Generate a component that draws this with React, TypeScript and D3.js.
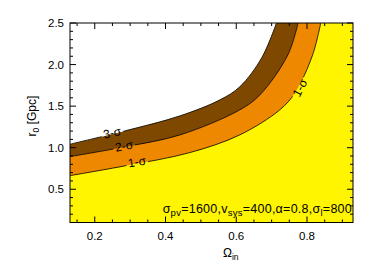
import React from "react";
import * as d3 from "d3";

const W = 374, H = 267;
const M = { left: 70, right: 353, top: 23, bottom: 222.5 };

const xDomain = [0.13, 0.93];
const yDomain = [0.1, 2.5];
const xMajor = [0.2, 0.4, 0.6, 0.8];
const yMajor = [0.5, 1.0, 1.5, 2.0, 2.5];

// contour boundaries: Omega_in vs r0
const sig3Om = [0.13, 0.285, 0.441, 0.554, 0.61, 0.672, 0.714];
const sig3R = [1.042, 1.202, 1.383, 1.576, 1.733, 2.082, 2.504];
const sig2Om = [0.13, 0.285, 0.441, 0.61, 0.667, 0.746, 0.775];
const sig2R = [0.893, 1.01, 1.154, 1.455, 1.636, 2.118, 2.504];
const sig1Om = [0.13, 0.285, 0.469, 0.61, 0.723, 0.766, 0.816, 0.839];
const sig1R = [0.664, 0.781, 0.941, 1.154, 1.455, 1.66, 2.118, 2.504];

const labelText = ["3-σ", "2-σ", "1-σ", "1-σ"];
const labelOm = [0.249, 0.283, 0.319, 0.78];
const labelR = [1.18, 1.02, 0.83, 1.72];
const labelAngle = [-12, -11, -10, -63];

const fillColors = ["#ffffff", "#7f4800", "#ee8800"];
const bgColor = "#fff500";

export default function App() {
  const x = d3.scaleLinear().domain(xDomain).range([M.left, M.right]);
  const y = d3.scaleLinear().domain(yDomain).range([M.bottom, M.top]);
  const line = d3
    .line<[number, number]>()
    .x((d) => x(d[0]))
    .y((d) => y(d[1]))
    .curve(d3.curveCatmullRom.alpha(0.5));
  const curves: [number, number][][] = [
    sig3Om.map((o, i) => [o, sig3R[i]]),
    sig2Om.map((o, i) => [o, sig2R[i]]),
    sig1Om.map((o, i) => [o, sig1R[i]]),
  ];
  const regionPath = (c: [number, number][]) =>
    line(c) + ` L${x(xDomain[0])},${y(yDomain[1])} Z`;

  const xMinor = d3.range(0.15, 0.93, 0.05).map((v) => +v.toFixed(2));
  const yMinor = d3.range(0.1, 2.51, 0.1).map((v) => +v.toFixed(2));
  const font = "Liberation Sans, Arial, sans-serif";

  const labelBoxes = labelText.map((t, i) => ({
    cx: x(labelOm[i]),
    cy: y(labelR[i]),
    a: labelAngle[i],
  }));

  return (
    <svg width={W} height={H} style={{ position: "absolute", left: 0, top: 0 }} fontFamily={font}>
      <defs>
        <clipPath id="plot">
          <rect x={M.left} y={M.top} width={M.right - M.left} height={M.bottom - M.top} />
        </clipPath>
        <mask id="lblmask">
          <rect x={0} y={0} width={W} height={H} fill="white" />
          {labelBoxes.map((b, i) => (
            <rect
              key={i}
              x={-11}
              y={-5}
              width={22}
              height={10}
              fill="black"
              transform={`translate(${b.cx},${b.cy}) rotate(${b.a})`}
            />
          ))}
        </mask>
      </defs>
      <g clipPath="url(#plot)">
        <rect x={M.left} y={M.top} width={M.right - M.left} height={M.bottom - M.top} fill={bgColor} />
        {[2, 1, 0].map((i) => (
          <path key={i} d={regionPath(curves[i])} fill={fillColors[i]} />
        ))}
        <g mask="url(#lblmask)">
          {curves.map((c, i) => (
            <path key={i} d={line(c) || ""} fill="none" stroke="#000" strokeWidth={0.8} />
          ))}
        </g>
        {labelBoxes.map((b, i) => (
          <text
            key={i}
            transform={`translate(${b.cx},${b.cy}) rotate(${b.a})`}
            textAnchor="middle"
            dy="0.35em"
            fontSize={12}
            fill="#000"
          >
            {labelText[i]}
          </text>
        ))}
      </g>
      {/* frame */}
      <rect
        x={M.left}
        y={M.top}
        width={M.right - M.left}
        height={M.bottom - M.top}
        fill="none"
        stroke="#000"
        strokeWidth={1}
      />
      {/* ticks */}
      {xMinor.map((v) => {
        const maj = xMajor.some((m) => Math.abs(m - v) < 1e-6);
        const L = maj ? 6 : 3;
        return (
          <g key={"x" + v}>
            <line x1={x(v)} x2={x(v)} y1={M.bottom} y2={M.bottom - L} stroke="#000" />
            <line x1={x(v)} x2={x(v)} y1={M.top} y2={M.top + L} stroke="#000" />
          </g>
        );
      })}
      {yMinor.map((v) => {
        const maj = yMajor.some((m) => Math.abs(m - v) < 1e-6);
        const L = maj ? 6 : 3;
        return (
          <g key={"y" + v}>
            <line x1={M.left} x2={M.left + L} y1={y(v)} y2={y(v)} stroke="#000" />
            <line x1={M.right} x2={M.right - L} y1={y(v)} y2={y(v)} stroke="#000" />
          </g>
        );
      })}
      {xMajor.map((v) => (
        <text key={"xl" + v} x={x(v)} y={240} textAnchor="middle" fontSize={11.5} fill="#000">
          {v.toFixed(1)}
        </text>
      ))}
      {yMajor.map((v) => (
        <text key={"yl" + v} x={64} y={y(v)} dy="0.35em" textAnchor="end" fontSize={11.5} fill="#000">
          {v.toFixed(1)}
        </text>
      ))}
      <text x={223} y={257} fontSize={12} textAnchor="start" fill="#000">
        Ω<tspan fontSize={8.5} dy={3}>in</tspan>
      </text>
      <text transform={`translate(36,${116}) rotate(-90)`} textAnchor="middle" fontSize={12} fill="#000">
        r<tspan fontSize={8.5} dy={3}>0</tspan>
        <tspan dy={-3}> [Gpc]</tspan>
      </text>
      <text x={352} y={213} textAnchor="end" fontSize={12.5} letterSpacing={0.25} fill="#000">
        σ<tspan fontSize={9.5} dy={3}>pv</tspan>
        <tspan dy={-3}>=1600,v</tspan>
        <tspan fontSize={9.5} dy={3}>sys</tspan>
        <tspan dy={-3}>=400,α=0.8,σ</tspan>
        <tspan fontSize={9.5} dy={3}>l</tspan>
        <tspan dy={-3}>=800</tspan>
      </text>
    </svg>
  );
}
